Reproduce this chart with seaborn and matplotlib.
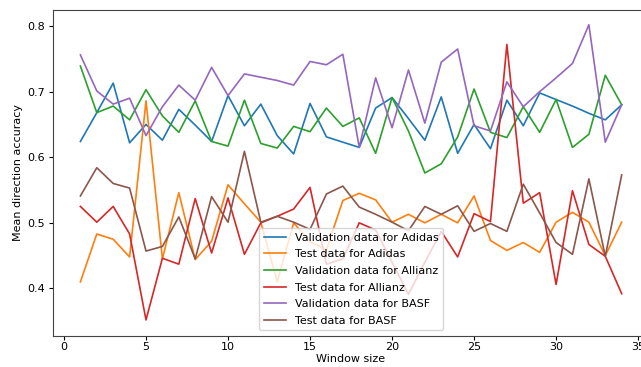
import numpy as np
import pandas as pd
import matplotlib
matplotlib.use("Agg")
import matplotlib.pyplot as plt
import seaborn as sns

window = list(range(1, 35))

val_adidas = [0.624, 0.668, 0.713, 0.622, 0.650, 0.626, 0.673, 0.649, 0.624, 0.694,
              0.648, 0.681, 0.633, 0.605, 0.682, 0.631, 0.623, 0.615, 0.675, 0.691,
              0.659, 0.626, 0.692, 0.606, 0.650, 0.613, 0.687, 0.648, 0.698, 0.688,
              0.678, 0.667, 0.657, 0.680]
test_adidas = [0.410, 0.483, 0.475, 0.448, 0.686, 0.445, 0.546, 0.444, 0.472, 0.558,
               0.529, 0.501, 0.410, 0.500, 0.471, 0.459, 0.534, 0.545, 0.535, 0.501,
               0.513, 0.500, 0.513, 0.500, 0.541, 0.473, 0.458, 0.470, 0.455, 0.501,
               0.516, 0.501, 0.450, 0.501]
val_allianz = [0.739, 0.668, 0.678, 0.657, 0.703, 0.663, 0.638, 0.686, 0.624, 0.617,
               0.687, 0.621, 0.614, 0.647, 0.639, 0.675, 0.647, 0.660, 0.606, 0.691,
               0.640, 0.576, 0.590, 0.631, 0.704, 0.638, 0.630, 0.677, 0.638, 0.688,
               0.615, 0.635, 0.725, 0.680]
test_allianz = [0.525, 0.501, 0.525, 0.483, 0.352, 0.446, 0.437, 0.537, 0.454, 0.538,
                0.452, 0.500, 0.510, 0.521, 0.554, 0.437, 0.445, 0.500, 0.489, 0.440,
                0.391, 0.440, 0.487, 0.448, 0.514, 0.502, 0.772, 0.530, 0.546, 0.406,
                0.549, 0.467, 0.449, 0.392]
val_basf = [0.756, 0.701, 0.681, 0.690, 0.633, 0.677, 0.710, 0.687, 0.737, 0.694,
            0.727, 0.722, 0.717, 0.710, 0.746, 0.741, 0.757, 0.615, 0.721, 0.645,
            0.733, 0.652, 0.745, 0.765, 0.648, 0.640, 0.715, 0.677, 0.700, 0.721,
            0.743, 0.802, 0.623, 0.680]
test_basf = [0.541, 0.584, 0.560, 0.553, 0.457, 0.464, 0.509, 0.445, 0.540, 0.501,
             0.609, 0.501, 0.510, 0.501, 0.490, 0.544, 0.556, 0.524, 0.513, 0.501,
             0.488, 0.525, 0.513, 0.526, 0.487, 0.499, 0.487, 0.559, 0.515, 0.470,
             0.452, 0.567, 0.449, 0.573]

labels = ["Validation data for Adidas", "Test data for Adidas",
          "Validation data for Allianz", "Test data for Allianz",
          "Validation data for BASF", "Test data for BASF"]
series = [val_adidas, test_adidas, val_allianz, test_allianz, val_basf, test_basf]
colors = sns.color_palette("tab10", 6)

plt.rcParams["font.family"] = ["DejaVu Sans"]
plt.rcParams["font.size"] = 8

fig = plt.figure(figsize=(6.41, 3.67), dpi=100)
ax = fig.add_axes([0.0832, 0.0845, 0.9289, 0.8883])

for lab, vals, col in zip(labels, series, colors):
    df = pd.DataFrame({"Window size": window, "Mean direction accuracy": vals})
    sns.lineplot(data=df, x="Window size", y="Mean direction accuracy",
                 ax=ax, color=col, label=lab, linewidth=1.2)

ax.set_xticks([0, 5, 10, 15, 20, 25, 30, 35])
ax.set_yticks([0.4, 0.5, 0.6, 0.7, 0.8])
ax.set_xlim(-0.65, 35.65)
ax.set_ylim(0.3275, 0.8245)
ax.set_xlabel("Window size", fontsize=8, labelpad=1.5)
ax.set_ylabel("Mean direction accuracy", fontsize=8, labelpad=3)
ax.tick_params(axis="x", labelsize=8, length=3, pad=1.5)
ax.tick_params(axis="y", labelsize=8, length=3, pad=3)
for s in ax.spines.values():
    s.set_color("#444444")
ax.legend(loc="lower center", fontsize=8, labelspacing=0.6)

fig.savefig("out.png", dpi=100)
